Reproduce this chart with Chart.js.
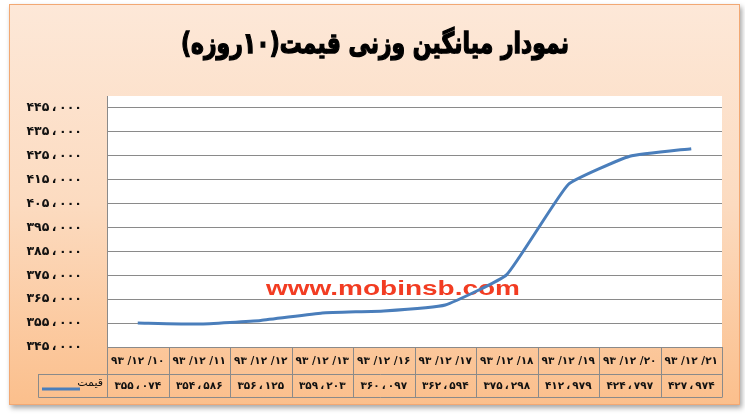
<!DOCTYPE html>
<html>
<head>
<meta charset="utf-8">
<script src="https://cdn.jsdelivr.net/npm/chart.js@4/dist/chart.umd.min.js"></script>
<style>
html,body{margin:0;padding:0;background:#fff;}
canvas{display:block;}
</style>
</head>
<body>
<canvas id="c" width="745" height="418"></canvas>
<script>
const chartTitle = 'نمودار میانگین وزنی قیمت(۱۰روزه)';
const seriesName = 'قیمت';
const watermark = 'www.mobinsb.com';
const categories = ['93/12/10','93/12/11','93/12/12','93/12/13','93/12/16','93/12/17','93/12/18','93/12/19','93/12/20','93/12/21'];
const prices = [355074, 354586, 356125, 359203, 360097, 362594, 375298, 412979, 424797, 427974];
const yTicks = [345000, 355000, 365000, 375000, 385000, 395000, 405000, 415000, 425000, 435000, 445000];
const yMin = 345000, yMax = 450000;

const fa = s => String(s).replace(/[0-9]/g, d => '۰۱۲۳۴۵۶۷۸۹'[d]);
const fmtNum = v => { const s = String(Math.round(v)); return fa(s.slice(0, s.length-3) + '\u2009،\u2009' + s.slice(-3)); };

const PF = "'DejaVu Sans'";
const GRID = '#8a8a8a';

const framePlugin = {
  id: 'frame',
  beforeDraw(chart) {
    const ctx = chart.ctx, a = chart.chartArea;
    ctx.save();
    ctx.fillStyle = '#ffffff';
    ctx.fillRect(0, 0, chart.width, chart.height);
    ctx.shadowColor = 'rgba(0,0,0,0.35)';
    ctx.shadowBlur = 5; ctx.shadowOffsetX = 2; ctx.shadowOffsetY = 3;
    const g = ctx.createLinearGradient(0, 4, 0, 405);
    g.addColorStop(0, '#fde8d8');
    g.addColorStop(0.5, '#fcdbc0');
    g.addColorStop(1, '#fbbf8c');
    ctx.fillStyle = g;
    ctx.fillRect(9, 4, 731, 401);
    ctx.shadowColor = 'transparent';
    ctx.strokeStyle = '#f2a873';
    ctx.lineWidth = 1;
    ctx.strokeRect(9.5, 4.5, 730, 400);
    ctx.fillStyle = '#ffffff';
    ctx.fillRect(a.left, a.top, a.right - a.left, a.bottom - a.top);
    // title
    ctx.fillStyle = '#000000';
    ctx.strokeStyle = '#000000';
    ctx.lineWidth = 1.2;
    ctx.font = 'bold 25px ' + PF;
    ctx.direction = 'rtl';
    ctx.textAlign = 'center';
    ctx.textBaseline = 'middle';
    const tw = ctx.measureText(chartTitle).width;
    ctx.translate(375, 46);
    ctx.scale(388 / tw, 1.15);
    ctx.fillText(chartTitle, 0, 0);
    ctx.strokeText(chartTitle, 0, 0);
    ctx.restore();
  },
  beforeDatasetsDraw(chart) {
    const ctx = chart.ctx;
    ctx.save();
    ctx.fillStyle = '#f23c22';
    ctx.font = "bold 20px 'Liberation Sans'";
    ctx.textAlign = 'center';
    ctx.textBaseline = 'middle';
    const tw = ctx.measureText(watermark).width;
    ctx.translate(393, 289);
    ctx.scale(254 / tw, 1);
    ctx.fillText(watermark, 0, 0);
    ctx.restore();
  },
  afterDraw(chart) {
    const ctx = chart.ctx, a = chart.chartArea, xs = chart.scales.x;
    const n = categories.length;
    const colW = (a.right - a.left) / n;
    const r1t = a.bottom, r1b = 374, r2b = 397.5, legL = 38.5;
    ctx.save();
    ctx.strokeStyle = GRID;
    ctx.lineWidth = 1;
    ctx.beginPath();
    ctx.moveTo(a.left, Math.round(r1t) + 0.5); ctx.lineTo(a.right, Math.round(r1t) + 0.5);
    ctx.moveTo(legL, r1b + 0.5); ctx.lineTo(a.right, r1b + 0.5);
    ctx.moveTo(legL, r2b); ctx.lineTo(a.right, r2b);
    ctx.moveTo(legL, r1b); ctx.lineTo(legL, r2b);
    for (let i = 0; i <= n; i++) {
      const x = Math.round(a.left + i * colW) + 0.5;
      ctx.moveTo(x, r1t); ctx.lineTo(x, r2b);
    }
    ctx.stroke();
    ctx.fillStyle = '#111111';
    ctx.font = 'bold 10.5px ' + PF;
    ctx.textAlign = 'center';
    ctx.textBaseline = 'middle';
    for (let i = 0; i < n; i++) {
      const cx = xs.getPixelForValue(i);
      const lab = fa(categories[i]).split('/').join(' /');
      ctx.fillText(lab, cx, (r1t + r1b) / 2 + 1);
      ctx.fillText(fmtNum(prices[i]), cx, (r1b + r2b) / 2 + 1);
    }
    ctx.font = '11px ' + PF;
    ctx.direction = 'rtl';
    ctx.textAlign = 'right';
    ctx.fillText(seriesName, 103, 383);
    ctx.strokeStyle = '#4a7ebb';
    ctx.lineWidth = 3;
    ctx.beginPath();
    ctx.moveTo(42, 389); ctx.lineTo(80, 389);
    ctx.stroke();
    ctx.restore();
  }
};

new Chart(document.getElementById('c'), {
  type: 'line',
  data: {
    labels: categories,
    datasets: [{
      label: seriesName,
      data: prices,
      borderColor: '#4a7ebb',
      borderWidth: 3,
      pointRadius: 0,
      tension: 0.12,
      fill: false
    }]
  },
  options: {
    responsive: false,
    devicePixelRatio: 1,
    animation: false,
    layout: { padding: { left: 0, top: 96, right: 23, bottom: 71 } },
    plugins: { legend: { display: false }, tooltip: { enabled: false }, title: { display: false } },
    scales: {
      x: { type: 'category', offset: true, display: false },
      y: {
        min: yMin, max: yMax,
        afterBuildTicks(axis) { axis.ticks = yTicks.map(v => ({ value: v })); },
        afterFit(axis) { axis.width = 107; },
        ticks: {
          callback: v => fmtNum(v),
          font: { family: 'DejaVu Sans', size: 12.5, weight: 'bold' },
          color: '#111111',
          padding: 25
        },
        grid: { color: GRID, drawTicks: false },
        border: { color: GRID }
      }
    }
  },
  plugins: [framePlugin]
});
</script>
</body>
</html>
